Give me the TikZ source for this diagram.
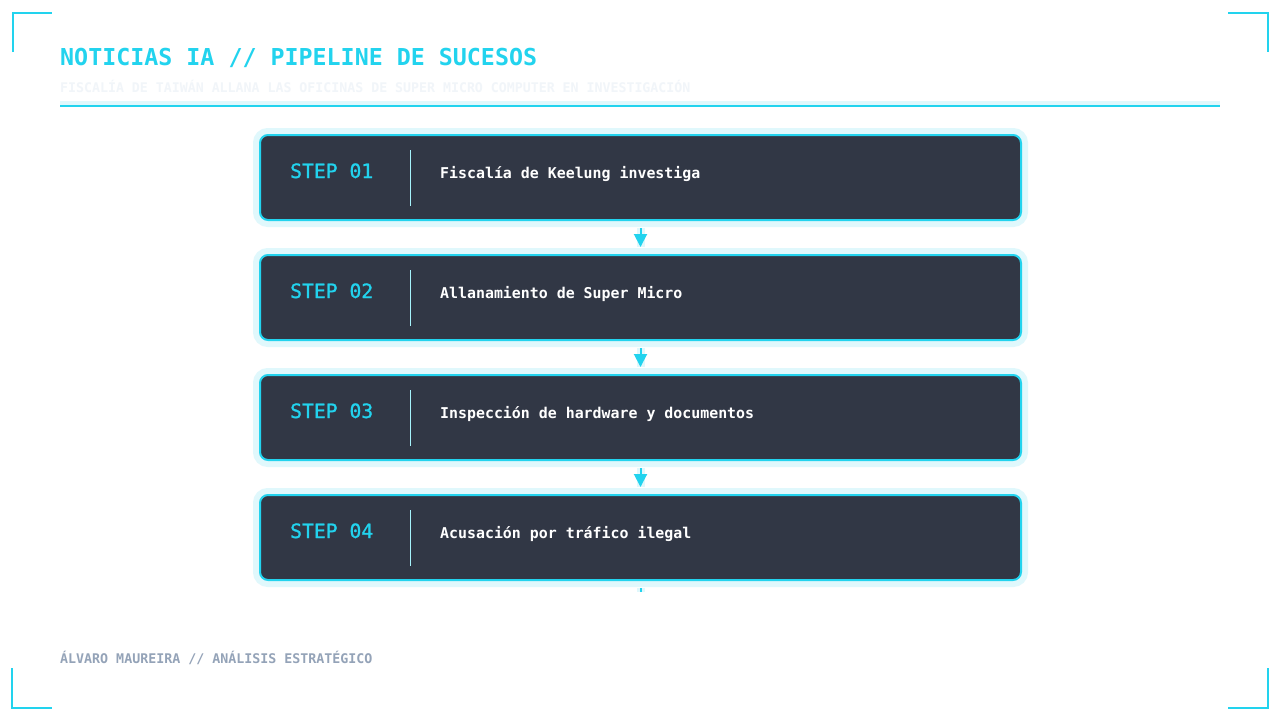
\documentclass[tikz,border=0pt]{standalone}
\usepackage{fontspec}
\setmainfont{DejaVu Sans Mono}
\newfontface\stepfont{DejaVu Sans Mono}[FakeBold=1.2]
\usetikzlibrary{arrows.meta}
\definecolor{cy}{HTML}{22D3EE}
\definecolor{glow}{HTML}{E0F8FC}
\definecolor{boxfill}{HTML}{313745}
\definecolor{divc}{HTML}{A5F3FC}
\definecolor{subc}{HTML}{F1F5F9}
\definecolor{footc}{HTML}{94A3B8}
\begin{document}
\begin{tikzpicture}[x=1pt,y=-1pt,
  corner/.style={draw=cy,line width=2pt},
  stepbox/.style={draw=cy,line width=2pt,fill=boxfill,rounded corners=8pt,
    minimum width=761pt,minimum height=85pt,inner sep=0pt,
    preaction={draw=glow,line width=14pt}},
  steplbl/.style={anchor=base west,inner sep=0pt,text=cy,font=\stepfont\fontsize{19.7}{22}\selectfont},
  desc/.style={anchor=base west,inner sep=0pt,text=white,font=\bfseries\fontsize{14.9}{18}\selectfont},
  divider/.style={draw=divc,line width=1pt},
  conn/.style={draw=cy,line width=2pt,-{Triangle[width=13pt,length=13pt]},
    preaction={draw=glow,line width=8pt,-}},
  stub/.style={draw=cy,line width=2pt,preaction={draw=glow,line width=8pt}}
]
\useasboundingbox[fill=white] (0,0) rectangle (1280,720);
% corners
\draw[corner] (13,52) -- (13,13) -- (52,13);
\draw[corner] (1228,13) -- (1268,13) -- (1268,52);
\draw[corner] (12,668) -- (12,708) -- (52,708);
\draw[corner] (1228,708) -- (1268,708) -- (1268,668);
% header
\node[anchor=base west,inner sep=0pt,text=cy,font=\bfseries\fontsize{23.3}{28}\selectfont] (title) at (60,65) {NOTICIAS IA // PIPELINE DE SUCESOS};
\node[anchor=base west,inner sep=0pt,text=subc,font=\bfseries\fontsize{13.25}{16}\selectfont] (subtitle) at (60,92) {FISCALÍA DE TAIWÁN ALLANA LAS OFICINAS DE SUPER MICRO COMPUTER EN INVESTIGACIÓN};
\draw[glow,line width=5pt] (60,103.5) -- (1220,103.5);
\draw[cy,line width=2pt] (60,106) -- (1220,106);
% boxes
\node[stepbox] (b1) at (640.5,177.5) {};
\node[stepbox] (b2) at (640.5,297.5) {};
\node[stepbox] (b3) at (640.5,417.5) {};
\node[stepbox] (b4) at (640.5,537.5) {};
\node[steplbl] (s1) at (290,178) {STEP 01};
\node[steplbl] (s2) at (290,298) {STEP 02};
\node[steplbl] (s3) at (290,418) {STEP 03};
\node[steplbl] (s4) at (290,538) {STEP 04};
\draw[divider] (410,150) -- (410,206);
\draw[divider] (410,270) -- (410,326);
\draw[divider] (410,390) -- (410,446);
\draw[divider] (410,510) -- (410,566);
\node[desc] (d1) at (440,178.5) {Fiscalía de Keelung investiga};
\node[desc] (d2) at (440,298.5) {Allanamiento de Super Micro};
\node[desc] (d3) at (440,418.5) {Inspección de hardware y documentos};
\node[desc] (d4) at (440,538.5) {Acusación por tráfico ilegal};
% connectors
\draw[conn] ([yshift=-7pt]b1.south) -- ([yshift=7pt]b2.north);
\draw[conn] ([yshift=-7pt]b2.south) -- ([yshift=7pt]b3.north);
\draw[conn] ([yshift=-7pt]b3.south) -- ([yshift=7pt]b4.north);
\coordinate (tail) at ([yshift=-11pt]b4.south);
\draw[stub] ([yshift=-7pt]b4.south) -- (tail);
% footer
\node[anchor=base west,inner sep=0pt,text=footc,font=\bfseries\fontsize{13.3}{16}\selectfont] (footer) at (60,663) {ÁLVARO MAUREIRA // ANÁLISIS ESTRATÉGICO};
\end{tikzpicture}
\end{document}
